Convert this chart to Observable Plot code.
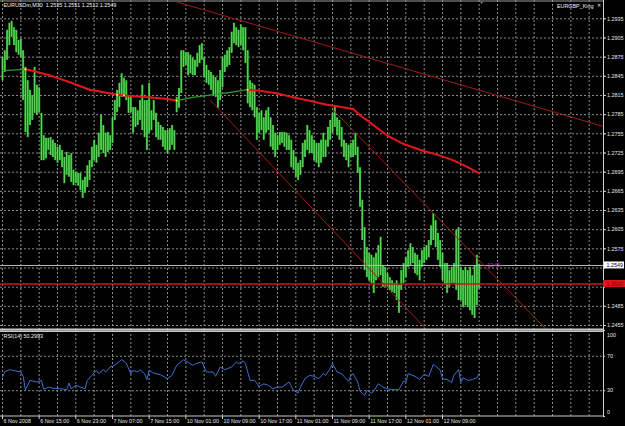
<!DOCTYPE html>
<html><head><meta charset="utf-8">
<script src="https://cdn.jsdelivr.net/npm/d3@7"></script>
<script src="https://cdn.jsdelivr.net/npm/@observablehq/plot@0.6"></script>
<style>
html,body{margin:0;padding:0;background:#000;}
#chart{position:relative;width:625px;height:426px;background:#000;overflow:hidden;}
#chart svg{display:block;}
</style></head><body><div id="chart"></div>
<script>
// ---------- data ----------
const symbolName = "EURUSDm,M30";
const lastOHLC = [1.2535, 1.2551, 1.2512, 1.2549];
const indicatorName = "EURGBP_King";
const rsiTitle = "RSI(14)";
const rsiLast = 50.2993;
const timerText = "12:45";

const highs = [
1.2874,1.2885,1.2917,1.2928,1.2931,1.2921,1.2917,1.2901,1.2903,1.2885,
1.2859,1.2838,1.2823,1.2815,1.2859,1.2831,1.2827,1.2787,1.2752,1.2748,
1.2748,1.2749,1.2745,1.2740,1.2734,1.2737,1.2729,1.2718,1.2726,1.2721,
1.2724,1.2698,1.2695,1.2693,1.2693,1.2682,1.2687,1.2705,1.2713,1.2734,
1.2745,1.2737,1.2756,1.2784,1.2768,1.2756,1.2757,1.2752,1.2780,1.2807,
1.2823,1.2834,1.2849,1.2842,1.2838,1.2815,1.2812,1.2796,1.2796,1.2791,
1.2807,1.2831,1.2807,1.2807,1.2834,1.2791,1.2807,1.2787,1.2773,1.2768,
1.2765,1.2760,1.2760,1.2763,1.2768,1.2760,1.2812,1.2826,1.2885,1.2885,
1.2882,1.2882,1.2878,1.2873,1.2870,1.2881,1.2893,1.2896,1.2874,1.2862,
1.2854,1.2851,1.2846,1.2843,1.2838,1.2854,1.2874,1.2878,1.2885,1.2890,
1.2914,1.2928,1.2921,1.2917,1.2925,1.2921,1.2921,1.2885,1.2838,1.2834,
1.2831,1.2796,1.2787,1.2791,1.2780,1.2791,1.2796,1.2780,1.2768,1.2756,
1.2752,1.2757,1.2757,1.2757,1.2756,1.2752,1.2745,1.2729,1.2718,1.2709,
1.2713,1.2740,1.2745,1.2768,1.2760,1.2752,1.2745,1.2740,1.2740,1.2745,
1.2756,1.2745,1.2765,1.2776,1.2787,1.2796,1.2780,1.2776,1.2765,1.2745,
1.2740,1.2737,1.2740,1.2745,1.2756,1.2734,1.2702,1.2651,1.2608,1.2577,
1.2568,1.2565,1.2561,1.2568,1.2580,1.2593,1.2549,1.2546,1.2536,1.2530,
1.2525,1.2521,1.2525,1.2518,1.2541,1.2552,1.2561,1.2572,1.2583,1.2577,
1.2568,1.2565,1.2557,1.2572,1.2577,1.2580,1.2588,1.2611,1.2630,1.2619,
1.2599,1.2588,1.2568,1.2552,1.2552,1.2541,1.2546,1.2552,1.2604,1.2608,
1.2546,1.2541,1.2546,1.2541,1.2546,1.2533,1.2549,1.2565,1.2551];

const lows = [
1.2838,1.2851,1.2870,1.2893,1.2906,1.2893,1.2882,1.2878,1.2874,1.2807,
1.2757,1.2749,1.2768,1.2776,1.2787,1.2784,1.2788,1.2713,1.2713,1.2716,
1.2729,1.2721,1.2718,1.2713,1.2709,1.2713,1.2702,1.2677,1.2690,1.2687,
1.2679,1.2674,1.2677,1.2673,1.2666,1.2654,1.2662,1.2671,1.2682,1.2702,
1.2713,1.2709,1.2718,1.2729,1.2724,1.2718,1.2726,1.2729,1.2740,1.2776,
1.2788,1.2796,1.2812,1.2815,1.2807,1.2787,1.2788,1.2756,1.2765,1.2768,
1.2776,1.2760,1.2749,1.2729,1.2756,1.2760,1.2776,1.2749,1.2745,1.2745,
1.2734,1.2729,1.2724,1.2729,1.2737,1.2729,1.2788,1.2795,1.2818,1.2859,
1.2862,1.2846,1.2849,1.2846,1.2846,1.2859,1.2865,1.2870,1.2843,1.2834,
1.2831,1.2823,1.2815,1.2812,1.2795,1.2807,1.2827,1.2851,1.2859,1.2862,
1.2881,1.2896,1.2893,1.2890,1.2893,1.2885,1.2865,1.2802,1.2796,1.2791,
1.2780,1.2745,1.2756,1.2760,1.2745,1.2756,1.2760,1.2734,1.2729,1.2718,
1.2729,1.2737,1.2740,1.2734,1.2729,1.2729,1.2702,1.2698,1.2687,1.2682,
1.2690,1.2702,1.2718,1.2729,1.2724,1.2724,1.2713,1.2709,1.2702,1.2709,
1.2718,1.2718,1.2734,1.2745,1.2756,1.2765,1.2752,1.2745,1.2734,1.2718,
1.2713,1.2702,1.2718,1.2718,1.2721,1.2693,1.2640,1.2588,1.2541,1.2530,
1.2525,1.2521,1.2505,1.2525,1.2530,1.2533,1.2515,1.2515,1.2515,1.2510,
1.2507,1.2505,1.2494,1.2474,1.2510,1.2521,1.2530,1.2546,1.2549,1.2552,
1.2536,1.2533,1.2525,1.2546,1.2552,1.2557,1.2561,1.2580,1.2588,1.2577,
1.2557,1.2546,1.2525,1.2518,1.2505,1.2515,1.2521,1.2521,1.2510,1.2494,
1.2494,1.2483,1.2486,1.2483,1.2478,1.2471,1.2466,1.2486,1.2512];

// moving average (sampled along the bars)
const maBars   = [0,10,14,21,30,38,43,50,53,65,71,76,83,98,107,113,120,127,135,141,146,153,156,161,168,175,183,190,197,203,208];
const maValues = [1.2854,1.2856,1.2853,1.2846,1.2835,1.2824,1.2821,1.2816,1.2815,1.2812,1.2810,1.2807,1.2812,1.2819,1.2824,1.2822,1.2818,1.2812,1.2806,1.2801,1.2798,1.2794,1.2784,1.2771,1.2752,1.2739,1.2729,1.2722,1.2713,1.2703,1.2693];
const maSignalBars = [10,50,53,76,107];

// trend lines [bar, price]
const trendTop = [[76.4,1.2961],[261.8,1.2767]];
const trendMid = [[90.8,1.2807],[186.8,1.2442]];
const trendLow = [[144.4,1.2792],[239.1,1.2442]];

const bidPrice = 1.2549;
const levelPrice = 1.2520;

// RSI(14)
const rsiBars = [0,1,3,4,8,9,10,12,15,17, 18,20,22,25,28,29,30,32,34,36,
 37,39,41,42,44,45,47,49,52,54, 56,57,59,60,62,63,64,66,69,72,
 74,76,79,81,83,85,87,89,92,93, 95,97,100,102,103,105,106,108,110,112,
 114,116,118,120,122,125,127,129,130,132, 134,136,138,140,141,143,144,146,148,149,
 151,152,153,155,156,158,159,161,162,164, 166,168,170,173,175,176,177,180,182,184,
 186,188,191,192,194,196,197,199,200,201, 203,205,207,208];
const rsiValues = [45.9,52,54.5,54,51.7,46.7,31.2,42,40,42, 31.5,34.2,33,32.3,31.2,38.9,32.3,36.2,34.2,32.3,
 42,47.8,53.7,49.8,54.5,51.7,57.5,59.5,66.2,62, 49.8,53.7,51.7,54.5,49.8,42.8,53.7,50.5,48.5,44,
 48,59.5,66,63,59.5,62.2,63.4,51.7,51.7,46.7, 57.5,54.5,57.5,63.4,61.5,64.5,61.5,42,42,35,
 38,36.2,32.3,34.2,34.2,40,30.4,27.2,34.2,44, 47.8,46.7,44,49.8,47.8,55.7,61.5,51.7,49.8,46.7,
 40.9,47.8,49.8,40,29.5,24.5,30.4,27.2,29.5,38.2, 34.2,32.3,31.2,31.2,41.2,40,49.8,46.7,43,49,
 46.7,60.7,54,44,43,39.7,48,54.5,40,45, 42,43,45,50.3];

// axes
const priceTicks = [1.2935,1.2905,1.2875,1.2845,1.2815,1.2785,1.2755,1.2725,1.2695,1.2665,1.2635,1.2605,1.2575,1.2545,1.2515,1.2485,1.2455];
const rsiLevels = [30,70];
const rsiTicks = [0,30,70,100];
const timeLabelBars = [0,16,32,48,64,80,96,112,128,144,160,176,192];
const timeLabels = ["6 Nov 2008","6 Nov 15:00","6 Nov 23:00","7 Nov 07:00","7 Nov 15:00","10 Nov 01:00","10 Nov 09:00","10 Nov 17:00","11 Nov 01:00","11 Nov 09:00","11 Nov 17:00","12 Nov 01:00","12 Nov 09:00"];
const gridBars = d3.range(0, 257, 8);

// ---------- build ----------
const xDomain = [-0.873, 262.25];
const yDomain = [1.244721, 1.296364];
const bars = highs.map((h, i) => ({i, high: h, low: lows[i]}));
const maPts = maBars.map((b, k) => ({b, v: maValues[k]}));
const maSegs = d3.pairs(maPts).map(([a, c]) => ({x1: a.b, y1: a.v, x2: c.b, y2: c.v, up: c.v > a.v}));
const maSignals = maSignalBars.map(b => maPts.find(p => p.b === b));
const rsi = rsiBars.map((b, k) => ({b, v: rsiValues[k]}));
const header = symbolName + "  " + lastOHLC.map(v => v.toFixed(4)).join(" ");
// tick labels hidden behind the price boxes are not drawn
const labelTicks = priceTicks.filter(t => Math.abs(t - bidPrice) > 0.0008 && Math.abs(t - levelPrice) > 0.0008);

const font = "'Liberation Sans', Arial, sans-serif";
const grid = {stroke: "#8c8c8c", strokeDasharray: "2,2", strokeWidth: 1};
const baseStyle = {background: "#000", color: "#e6e6e6", fontFamily: font, fontSize: "5.4px", overflow: "visible"};

const main = Plot.plot({
  width: 625, height: 330,
  marginLeft: 0, marginRight: 22, marginTop: 0, marginBottom: 0,
  style: baseStyle,
  x: {domain: xDomain, axis: null},
  y: {domain: yDomain, axis: null, label: null},
  color: {type: "identity"},
  marks: [
    Plot.ruleY(priceTicks, grid),
    Plot.ruleX(gridBars, grid),
    Plot.ruleX(bars, {x: "i", y1: "low", y2: "high", stroke: "#26b226", strokeWidth: 2.1}),
    Plot.ruleX(bars, {x: "i", y1: "low", y2: "high", stroke: "#a8f8a8", strokeWidth: 0.8, strokeOpacity: 0.6}),
    Plot.link(maSegs, {x1: "x1", y1: "y1", x2: "x2", y2: "y2",
      stroke: d => d.up ? "#2e9a2e" : "#e3161c", strokeWidth: d => d.up ? 1.3 : 2, strokeLinecap: "round"}),
    Plot.dot(maSignals, {x: "b", y: "v", r: 1.1, fill: "#ffff40", stroke: null}),
    Plot.ruleY([bidPrice], {stroke: "#b8b8b8", strokeWidth: 1}),
    Plot.ruleY([levelPrice], {stroke: "#c41818", strokeWidth: 1.3}),
    Plot.line(trendTop, {x: d => d[0], y: d => d[1], stroke: "#a01c1c", strokeWidth: 1, clip: true}),
    Plot.line(trendMid, {x: d => d[0], y: d => d[1], stroke: "#a01c1c", strokeWidth: 1, clip: true}),
    Plot.line(trendLow, {x: d => d[0], y: d => d[1], stroke: "#a01c1c", strokeWidth: 1, clip: true}),
    // frame edges
    Plot.ruleY([yDomain[1]], {stroke: "#9a9a9a", dy: 0.5}),
    Plot.ruleY([yDomain[0]], {stroke: "#c8c8c8", strokeWidth: 2, dy: -1}),
    Plot.ruleX([xDomain[1]], {stroke: "#d0d0d0"}),
    // price axis
    Plot.ruleY(priceTicks, {x1: () => xDomain[1], x2: () => xDomain[1], insetRight: -2, stroke: "#d0d0d0"}),
    Plot.axisY(labelTicks, {anchor: "right", tickSize: 2, tickPadding: 1.5, tickFormat: d => d.toFixed(4), label: null, stroke: "#d0d0d0"}),
    // price boxes
    Plot.rect([bidPrice], {x1: () => xDomain[1], x2: () => xDomain[1], y1: d => d, y2: d => d,
      insetLeft: 1, insetRight: -21, insetTop: -3.5, insetBottom: -3.5, fill: "#ffffff"}),
    Plot.text([bidPrice], {x: () => xDomain[1], y: d => d, text: d => d.toFixed(4), dx: 3, textAnchor: "start", fill: "#000"}),
    Plot.rect([levelPrice], {x1: () => xDomain[1], x2: () => xDomain[1], y1: d => d, y2: d => d,
      insetLeft: 0, insetRight: -22, insetTop: -3.5, insetBottom: -3.5, fill: "#e3141c"}),
    Plot.text([levelPrice], {x: () => xDomain[1], y: d => d, text: d => d.toFixed(4), dx: 3, textAnchor: "start", fill: "#7a0000"}),
    // timer label next to last bar
    Plot.text([bidPrice], {x: () => bars.length + 2.5, y: d => d, text: () => timerText, textAnchor: "start", fill: "#c43cc4", fontSize: 5}),
    // chart shift marker
    Plot.text([bars.length], {x: d => d, frameAnchor: "top", text: () => "▼", fill: "#9a9a9a", fontSize: 4, dy: 1}),
    // headers
    Plot.text([header], {frameAnchor: "top-left", dx: 3, dy: 3, fill: "#f0f0f0"}),
    Plot.text([indicatorName], {frameAnchor: "top-right", dx: -10, dy: 3.5, fill: "#f0f0f0"}),
    Plot.text(["✕"], {frameAnchor: "top-right", dx: -2.5, dy: 3.5, fill: "#f0f0f0", fontSize: 4.5})
  ]
});

const rsiPlot = Plot.plot({
  width: 625, height: 96,
  marginLeft: 0, marginRight: 22, marginTop: 0, marginBottom: 10,
  style: baseStyle,
  x: {domain: xDomain, axis: null},
  y: {domain: [0, 100], axis: null, label: null},
  marks: [
    Plot.ruleY(rsiLevels, grid),
    Plot.ruleX(gridBars, grid),
    Plot.line(rsi, {x: "b", y: "v", stroke: "#3f6fcf", strokeWidth: 1}),
    Plot.ruleY([100], {stroke: "#c8c8c8", strokeWidth: 1.5, dy: 0.75}),
    Plot.ruleY([0], {stroke: "#c8c8c8", dy: -0.5}),
    Plot.ruleX([xDomain[1]], {stroke: "#d0d0d0"}),
    // right labels
    Plot.ruleY(rsiTicks, {x1: () => xDomain[1], x2: () => xDomain[1], insetRight: -2, stroke: "#d0d0d0"}),
    Plot.text(rsiLevels, {x: () => xDomain[1], y: d => d, text: d => String(d), dx: 3.5, textAnchor: "start"}),
    Plot.text([100], {x: () => xDomain[1], y: d => d, text: d => String(d), dx: 3.5, dy: 4.5, textAnchor: "start"}),
    Plot.text([0], {x: () => xDomain[1], y: d => d, text: d => String(d), dx: 3.5, dy: -4, textAnchor: "start"}),
    // time axis
    Plot.ruleX(timeLabelBars, {y1: 0, y2: 0, insetBottom: -3, stroke: "#d0d0d0"}),
    Plot.text(timeLabelBars, {x: d => d, y: () => 0, text: (d, i) => timeLabels[i], dx: 1, dy: 4.8, textAnchor: "start"}),
    // title
    Plot.text([rsiTitle + " " + rsiLast.toFixed(4)], {frameAnchor: "top-left", dx: 3, dy: 3.5, fill: "#f0f0f0"})
  ]
});

const root = document.getElementById("chart");
root.appendChild(main);
root.appendChild(rsiPlot);
</script>
</body></html>
